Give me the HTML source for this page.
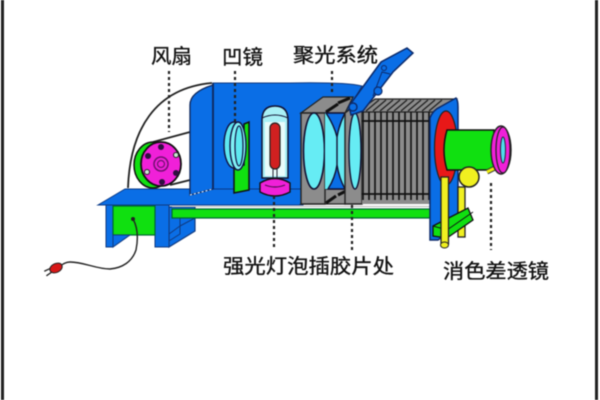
<!DOCTYPE html>
<html><head><meta charset="utf-8"><style>
html,body{margin:0;padding:0;background:#fff;width:600px;height:400px;overflow:hidden}
svg{display:block;filter:blur(.45px)}
text{font-family:"Liberation Sans","Noto Sans CJK SC",sans-serif;font-size:20px;fill:#111;stroke:#111;stroke-width:.35px}
</style></head><body>
<svg width="600" height="400" viewBox="0 0 600 400" xmlns="http://www.w3.org/2000/svg">
<rect width="600" height="400" fill="#fff"/>
<rect x="1" y="0" width="3" height="400" fill="#222"/>
<rect x="595" y="0" width="3" height="400" fill="#222"/>

<!-- labels -->
<text x="151" y="63" textLength="41" lengthAdjust="spacingAndGlyphs">风扇</text>
<text x="222" y="64" textLength="41" lengthAdjust="spacingAndGlyphs">凹镜</text>
<text x="293" y="62" textLength="85" lengthAdjust="spacingAndGlyphs">聚光系统</text>
<text x="223" y="273" textLength="171" lengthAdjust="spacingAndGlyphs">强光灯泡插胶片处</text>
<text x="443" y="278" textLength="106" lengthAdjust="spacingAndGlyphs">消色差透镜</text>

<!-- rear wall -->
<path d="M213 83H290Q345 82 362 86L345 115H301V189H213Z" fill="#0a6ee6" stroke="#103a80" stroke-width="1"/>
<!-- cowl arc and belts -->
<path d="M128 188C130 130 155 88 212 83" fill="none" stroke="#222" stroke-width="1.800"/>
<path d="M153 142L190 132M170 185L190 180" fill="none" stroke="#222" stroke-width="1.800"/>

<!-- platform -->
<path d="M98 205L125 189H303V205Z" fill="#0a6ee6" stroke="#0a3a88" stroke-width="1"/>
<!-- door -->
<path d="M190 195V105Q190 92 213 85V189Z" fill="#0a6ee6" stroke="#102a60" stroke-width="1.400"/>
<path d="M213 83V189" stroke="#102a60" stroke-width="1.800"/>
<path d="M190 195L213 189" stroke="#fff" stroke-width="1" stroke-dasharray="2 2"/>

<!-- fan -->
<ellipse cx="153" cy="165" rx="19" ry="23" fill="#10e010" stroke="#111" stroke-width="1.500"/>
<ellipse cx="161" cy="164" rx="20" ry="22" fill="#f020d8" stroke="#111" stroke-width="1.800"/>
<circle cx="161" cy="164" r="7" fill="none" stroke="#701070" stroke-width="1.500"/>
<circle cx="161" cy="164" r="3.500" fill="none" stroke="#701070" stroke-width="1.200"/>
<g fill="#301040"><circle cx="161" cy="147" r="3"/><circle cx="148" cy="156" r="3"/><circle cx="176" cy="173" r="3"/><circle cx="162" cy="182" r="3"/></g>
<g fill="#c8e8d0" stroke="#222"><circle cx="176" cy="155" r="2.500"/><circle cx="147" cy="172" r="2.500"/></g>

<!-- concave lens -->
<path d="M234 165V193L249 190V122L244 124V165Z" fill="#10e010" stroke="#111" stroke-width="1.500"/>
<ellipse cx="234" cy="145" rx="10" ry="23" fill="#5ee8f0" stroke="#114" stroke-width="1.400"/>
<ellipse cx="238" cy="146" rx="8" ry="24" fill="#80f0f4" stroke="#114" stroke-width="1.400"/>
<ellipse cx="239" cy="146" rx="4" ry="20" fill="#5ee8f0" stroke="#114" stroke-width="1.200"/>

<!-- bulb -->
<path d="M262 178V120Q262 106 275 106Q288 106 288 120V178Z" fill="#a8f0f6" stroke="#113" stroke-width="1.500"/>
<path d="M262 118Q275 112 288 118" fill="none" stroke="#113" stroke-width="1"/>
<path d="M265 122H285V176H265Z" fill="#e8fbfb"/>
<rect x="270" y="123" width="10" height="46" rx="5" fill="#d02020" stroke="#222" stroke-width="1.200"/>
<path d="M273 169V180M277 169V180" stroke="#223" stroke-width="1"/>
<path d="M260 183Q275 174 290 183V192Q275 200 260 192Z" fill="#f020d8" stroke="#111" stroke-width="1.400"/>
<path d="M265 185Q275 189 285 185" fill="none" stroke="#501050" stroke-width="1.200"/>

<!-- under base -->
<path d="M169 247L195 231V207H169Z" fill="#0a6ee6" stroke="#103a80" stroke-width="1.200"/>
<path d="M169 234L180 226V218M169 241L180 234V226M180 226L195 218" fill="none" stroke="#103a80" stroke-width="1"/>
<rect x="106" y="205" width="7" height="42" fill="#0a6ee6" stroke="#103a80"/>
<rect x="155" y="205" width="14" height="42" fill="#0a6ee6" stroke="#103a80"/>
<rect x="113" y="206" width="42" height="29" fill="#10e010" stroke="#063" stroke-width="1.200"/>
<path d="M113 247V235H130Z" fill="#0a6ee6" stroke="#103a80"/>
<!-- cord & plug -->
<circle cx="133" cy="219" r="2" fill="#222"/>
<path d="M133 219C138 228 138 240 136 250C132 262 122 268 110 269C96 269 84 262 70 262C66 262 63 264 60 266" fill="none" stroke="#222" stroke-width="1.400"/>
<g transform="rotate(-25 56 268)"><ellipse cx="56" cy="268" rx="6.500" ry="4.500" fill="#d81818" stroke="#222"/><path d="M50 266L44 266M50 270L44 271" stroke="#222" stroke-width="1.300"/></g>

<!-- condenser -->
<rect x="301" y="113" width="61" height="91" fill="#0a6ee6"/>
<path d="M301 113L323 97H353L345 113Z" fill="#8c8c8c" stroke="#222" stroke-width="1.200"/>
<path d="M326 112L338 104M338 103L350 98" stroke="#111" stroke-width="3"/>
<path d="M301 204L323 189H353L345 204Z" fill="#8c8c8c" stroke="#222" stroke-width="1.200"/>
<path d="M326 203L336 196M338 195L348 190" stroke="#111" stroke-width="3"/>
<path d="M301 113H325V204H301Z" fill="#8c8c8c" stroke="#222" stroke-width="1.400"/>
<ellipse cx="314" cy="151" rx="10.500" ry="38" fill="#66ecf4" stroke="#113" stroke-width="1.600"/>
<!-- crossed inner lenses with blue wedges above and below the waist -->
<rect x="325" y="113" width="20" height="76" fill="#66ecf4"/>
<path d="M326 113H345Q339 125 337 137Q334 125 326 113Z" fill="#0a6ee6" stroke="#113" stroke-width="1.400"/>
<path d="M328 189H345Q339 178 337 165Q335 178 328 189Z" fill="#0a6ee6" stroke="#113" stroke-width="1.400"/>
<path d="M337 137V165" stroke="#113" stroke-width="1.400"/>
<path d="M345 113L362 100V204H345Z" fill="#8c8c8c" stroke="#222" stroke-width="1.400"/>
<ellipse cx="355" cy="151" rx="6" ry="38" fill="#66ecf4" stroke="#113" stroke-width="1.400"/>

<!-- bellows -->
<rect x="362" y="112" width="72" height="92" fill="#8c8c8c"/>
<path d="M360 110L375 99H456L433 112H362Z" fill="#8c8c8c" stroke="#222" stroke-width="1.200"/>
<path d="M366 111L379 100M373 111L386 100M380 111L393 100M387 111L400 100M394 111L407 100M401 111L414 100M408 111L421 100M415 111L428 100M422 111L435 100M429 111L442 100" stroke="#222" stroke-width="1.300"/>
<g stroke="#111" stroke-width="1.600">
<path d="M363 112V200M369 112V200M375 112V200M381 112V200M387 112V200M393 112V200M399 112V200M405 112V200M411 112V200M417 112V200M423 112V200M429 112V200"/>
</g>
<g stroke="#111" stroke-width="1.800"><path d="M362 121H432M362 194H432"/></g>
<g stroke="#8c8c8c" stroke-width="2"><path d="M366 114V120M372 114V120M378 114V120M384 114V120M390 114V120M396 114V120M402 114V120M408 114V120M414 114V120M420 114V120M426 114V120"/><path d="M366 195V202M372 195V202M378 195V202M384 195V202M390 195V202M396 195V202M402 195V202M408 195V202M414 195V202M420 195V202M426 195V202"/></g>

<!-- rail -->
<rect x="172" y="209" width="259" height="9" fill="#10e010" stroke="#063" stroke-width="1.200"/>
<path d="M172 206.500H430" stroke="#bbb" stroke-width="1"/>

<!-- front plate -->
<path d="M430 240V118Q433 110 440 107L456 98Q458 100 458 107V225L438 240Z" fill="#0a6ee6" stroke="#0c2a6a" stroke-width="1.500"/>
<ellipse cx="446" cy="148" rx="11.500" ry="37" fill="#e81818" stroke="#222" stroke-width="1.200"/>
<!-- tube -->
<path d="M447 130H494V170H447Q441 150 447 130Z" fill="#10e010" stroke="#111" stroke-width="1.500"/>
<path d="M487 172L497 167" stroke="#333" stroke-width="5"/><path d="M487 172L497 167" stroke="#ecec10" stroke-width="3"/>
<ellipse cx="501" cy="150" rx="10" ry="24" fill="#f020d8" stroke="#222" stroke-width="1.400"/>
<ellipse cx="503" cy="150" rx="7" ry="23" fill="#f020d8" stroke="#222" stroke-width="1.200"/>
<ellipse cx="503" cy="150" rx="2.500" ry="13" fill="#50dcec" stroke="#223" stroke-width="1"/>
<!-- posts -->
<rect x="458" y="187" width="7" height="50" fill="#f0f020" stroke="#222" stroke-width="1.300"/>
<circle cx="469" cy="177" r="10" fill="#f0f020" stroke="#222" stroke-width="1.500"/>
<path d="M433 226L468 208L473 220L447 238L433 236Z" fill="#10e010" stroke="#111" stroke-width="1.300"/>
<path d="M433 226L447 230L473 212" fill="none" stroke="#111" stroke-width="1"/>
<rect x="441" y="177" width="7.500" height="67" fill="#f0f020" stroke="#222" stroke-width="1.300"/>
<ellipse cx="444.500" cy="245" rx="4" ry="3" fill="#f0f020" stroke="#222"/>

<!-- handle -->
<path d="M349 106L381 62L407 48L413 53L393 72L363 111L351 115Z" fill="#0a6ee6" stroke="#0c2a6a" stroke-width="1.500"/>
<path d="M373 96L382 72L390 74" fill="#0a6ee6" stroke="#0c2a6a"/>
<circle cx="353" cy="107" r="4" fill="#0a6ee6" stroke="#0c2a6a" stroke-width="1.400"/>
<circle cx="378" cy="91" r="4" fill="#0a6ee6" stroke="#0c2a6a" stroke-width="1.200"/>
<circle cx="384" cy="68" r="2.500" fill="#0a6ee6" stroke="#0c2a6a"/>

<!-- dotted leaders -->
<g fill="none" stroke="#222" stroke-width="2.200" stroke-dasharray="3 3">
<path d="M169 71V132"/>
<path d="M235 71V125"/>
<path d="M332 71V95"/>
<path d="M274 196V248"/>
<path d="M352 205V250"/>
<path d="M491 183V250"/>
</g>
</svg>
</body></html>
